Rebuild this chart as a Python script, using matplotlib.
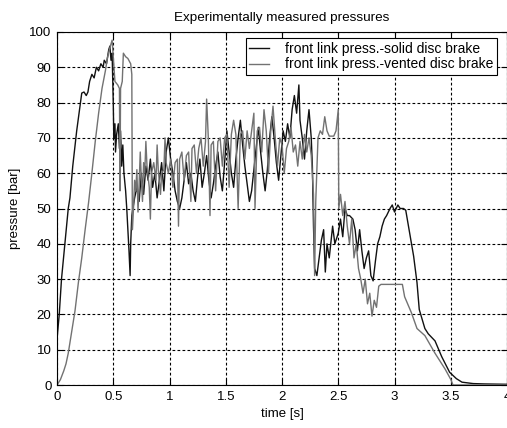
import matplotlib
matplotlib.use("Agg")
import matplotlib.pyplot as plt

# ---- data ----
solid_t = [0.0, 0.02, 0.04, 0.07, 0.10, 0.115, 0.14, 0.175, 0.20, 0.22, 0.24, 0.26, 0.275, 0.29, 0.31,
           0.33, 0.35, 0.37, 0.39, 0.41, 0.42, 0.44, 0.46, 0.47, 0.48, 0.49, 0.50, 0.505, 0.515, 0.52,
           0.53, 0.545, 0.555, 0.565, 0.575, 0.585, 0.595, 0.61, 0.62, 0.63, 0.64, 0.65, 0.655, 0.665,
           0.675, 0.69, 0.71, 0.73, 0.75, 0.77, 0.79, 0.81, 0.83, 0.85, 0.87, 0.89, 0.91, 0.93, 0.95,
           0.97, 0.99, 1.01, 1.03, 1.05, 1.07, 1.09, 1.11, 1.13, 1.15, 1.17, 1.19, 1.21, 1.23, 1.25,
           1.27, 1.29, 1.31, 1.33, 1.35, 1.37, 1.39, 1.41, 1.43, 1.45, 1.47, 1.49, 1.51, 1.53, 1.55,
           1.57, 1.59, 1.61, 1.63, 1.65, 1.67, 1.69, 1.71, 1.73, 1.75, 1.77, 1.79, 1.81, 1.83, 1.85,
           1.87, 1.89, 1.91, 1.93, 1.95, 1.97, 1.99, 2.01, 2.03, 2.05, 2.07, 2.09, 2.11, 2.13, 2.15,
           2.16, 2.18, 2.20, 2.22, 2.24, 2.26, 2.27, 2.28, 2.29, 2.31, 2.33, 2.35, 2.37, 2.385, 2.40,
           2.42, 2.45, 2.47, 2.50, 2.52, 2.54, 2.56, 2.58, 2.60, 2.63, 2.65, 2.67, 2.69, 2.71, 2.73,
           2.75, 2.77, 2.79, 2.81, 2.83, 2.85, 2.87, 2.89, 2.91, 2.93, 2.96, 2.98, 3.00, 3.03, 3.05,
           3.08, 3.10, 3.14, 3.17, 3.20, 3.22, 3.27, 3.30, 3.36, 3.42, 3.49, 3.55, 3.60, 3.70, 3.80, 4.0]
solid_p = [13, 20, 30, 40, 50, 53, 62, 72, 78, 82.7, 83, 82, 83, 86, 88,
           87, 90, 89, 91, 90, 92, 91, 95, 96, 92, 94, 80, 70, 74, 66,
           71, 74, 67, 72, 62, 68, 60, 55, 50, 44, 38, 31, 40, 48,
           50, 53, 56, 52, 60, 54, 62, 58, 64, 56, 60, 53, 58, 63, 55,
           66, 70, 64, 60, 55, 52, 50, 53, 58, 63, 57, 60, 55, 52, 59,
           64, 56, 60, 65, 58, 53, 57, 62, 66, 59, 55, 63, 72, 66, 60,
           56, 64, 70, 75, 68, 62, 57, 52, 55, 61, 67, 73, 66, 60, 55,
           61, 70, 76, 70, 63, 58, 65, 72, 69, 74, 70, 78, 82, 77, 85,
           75, 70, 64, 72, 78, 70, 62, 45, 33, 31, 36, 41, 44, 32, 40,
           36, 45, 40, 43, 47, 42, 50, 48, 48, 47, 44, 38, 44, 38, 33,
           36, 38, 31, 29.5, 35, 40, 42, 45, 47, 48, 50, 51, 49, 51, 50,
           50, 49.5, 42, 36.5, 29, 21.4, 16, 14.5, 12.5, 8, 3.6, 1.8, 0.8, 0.4, 0.3, 0.2]

vented_t = [0.0, 0.03, 0.06, 0.08, 0.10, 0.13, 0.16, 0.19, 0.22, 0.25, 0.28, 0.31, 0.34, 0.37, 0.40,
            0.43, 0.45, 0.47, 0.49, 0.50, 0.515, 0.54, 0.555, 0.56, 0.565, 0.58, 0.59, 0.61, 0.63,
            0.655, 0.665, 0.67, 0.68, 0.69, 0.70, 0.71, 0.72, 0.73, 0.74, 0.75, 0.76, 0.77, 0.78,
            0.79, 0.80, 0.82, 0.83, 0.84, 0.86, 0.88, 0.89, 0.90, 0.92, 0.93, 0.95, 0.96, 0.97, 0.99,
            1.01, 1.03, 1.05, 1.07, 1.08, 1.09, 1.11, 1.13, 1.15, 1.17, 1.19, 1.20, 1.22, 1.24, 1.26,
            1.28, 1.30, 1.32, 1.33, 1.345, 1.36, 1.37, 1.39, 1.41, 1.43, 1.45, 1.47, 1.49, 1.51, 1.53,
            1.55, 1.57, 1.59, 1.61, 1.63, 1.65, 1.67, 1.69, 1.71, 1.73, 1.75, 1.76, 1.78, 1.80, 1.82,
            1.84, 1.86, 1.88, 1.90, 1.92, 1.94, 1.96, 1.98, 2.00, 2.02, 2.04, 2.06, 2.08, 2.10, 2.12,
            2.14, 2.16, 2.18, 2.20, 2.22, 2.24, 2.26, 2.28, 2.29, 2.30, 2.32, 2.34, 2.36, 2.38, 2.40,
            2.42, 2.46, 2.48, 2.50, 2.505, 2.52, 2.54, 2.56, 2.58, 2.60, 2.62, 2.64, 2.66, 2.68, 2.70,
            2.72, 2.74, 2.76, 2.78, 2.80, 2.82, 2.84, 2.86, 2.88, 3.07, 3.09, 3.15, 3.20, 3.27, 3.36,
            3.45, 3.50, 3.52, 4.0]
vented_p = [0, 1.5, 4, 6, 9, 15, 21, 29, 36, 44, 51.5, 60, 69, 77, 84,
            89, 93, 95.5, 97.7, 93, 86, 85, 84, 55, 84, 86, 94, 93, 92.5,
            91, 88, 44, 50, 58, 55, 61, 49, 57, 66, 58, 52, 63, 60,
            69, 62, 56, 47, 60, 63, 58, 68, 61, 54, 60, 61, 70, 63, 60,
            64, 56, 63, 64, 45, 64, 66, 58, 65, 66, 52, 67, 68, 60, 67,
            70, 62, 69, 81, 70, 48, 68, 69, 55, 69, 70, 62, 70, 71, 56,
            71, 75, 71, 50, 71, 72, 64, 72, 67, 72, 77, 50, 72, 73, 66,
            78, 72, 60, 72, 79, 70, 62, 70, 68, 60, 67, 69, 73, 66, 68,
            62, 69, 64, 71, 66, 70, 65, 54, 31, 52, 70, 72, 71, 76, 72,
            70.5, 70.5, 72, 78, 50, 54, 48, 52, 45, 40, 47, 36, 40, 33, 30,
            26, 30, 23, 26, 19.5, 24, 22, 28, 28.5, 28.5, 25, 20.5, 16, 14, 9,
            4.5, 1.6, 0, 0]

x_ticks = [0, 0.5, 1, 1.5, 2, 2.5, 3, 3.5, 4]
x_tick_labels = ["0", "0.5", "1", "1.5", "2", "2.5", "3", "3.5", "4"]
y_ticks = [0, 10, 20, 30, 40, 50, 60, 70, 80, 90, 100]

plt.rcParams['font.family'] = ['Liberation Sans', 'DejaVu Sans']

fig = plt.figure(figsize=(5.07, 4.28), dpi=100)
ax = fig.add_axes([57/507, 1 - 385/428, 450/507, 353/428])

ax.plot(solid_t, solid_p, color='#111111', lw=1.0, label='front link press.-solid disc brake')
ax.plot(vented_t, vented_p, color='#727272', lw=1.0, label='front link press.-vented disc brake')

ax.set_xlim(0, 4)
ax.set_ylim(0, 100)
ax.set_xticks(x_ticks)
ax.set_xticklabels(x_tick_labels)
ax.set_yticks(y_ticks)
ax.grid(True, color='black', linestyle=(0, (2.5, 2)), linewidth=0.8)
ax.tick_params(direction='in', top=True, right=True, length=4, width=0.8, labelsize=9.5,
               colors='black', pad=4)
for s in ax.spines.values():
    s.set_color('black')
    s.set_linewidth(0.8)

ax.set_title('Experimentally measured pressures', fontsize=9.7, pad=8)
ax.set_xlabel('time [s]', fontsize=9.5, labelpad=4)
ax.set_ylabel('pressure [bar]', fontsize=9.5, labelpad=6)

leg = ax.legend(loc='upper right', bbox_to_anchor=(0.978, 0.982), borderaxespad=0,
                fontsize=10, fancybox=False, framealpha=1, edgecolor='black',
                handlelength=1.4, handletextpad=1.2, borderpad=0.25, labelspacing=0.12)
leg.get_frame().set_linewidth(0.8)

fig.savefig('out.png', dpi=100)
